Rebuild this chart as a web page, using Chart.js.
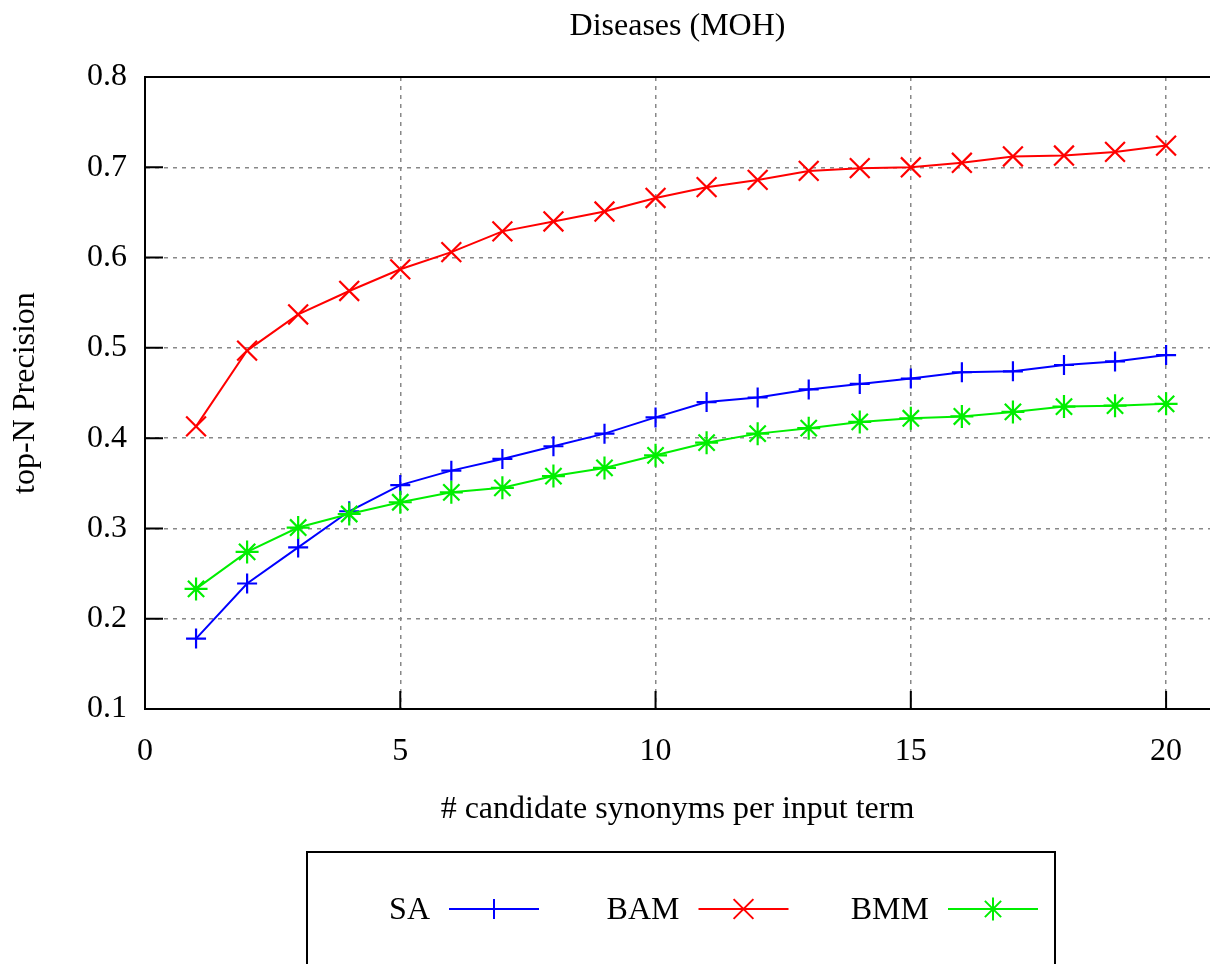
<!DOCTYPE html>
<html>
<head>
<meta charset="utf-8">
<title>Diseases (MOH)</title>
<script src="https://cdn.jsdelivr.net/npm/chart.js@4.4.1/dist/chart.umd.min.js"></script>
<style>
  html, body { margin: 0; padding: 0; background: #fff; }
  canvas { display: block; }
</style>
</head>
<body>
<canvas id="precisionChart" width="1210" height="964"></canvas>
<script>
// number of candidate synonyms (x) and top-N precision per method
const candidates = [1, 2, 3, 4, 5, 6, 7, 8, 9, 10, 11, 12, 13, 14, 15, 16, 17, 18, 19, 20];
const sa  = [0.178, 0.239, 0.279, 0.319, 0.348, 0.364, 0.377, 0.391, 0.405, 0.423,
             0.440, 0.445, 0.454, 0.460, 0.466, 0.473, 0.474, 0.481, 0.485, 0.492];
const bam = [0.413, 0.497, 0.537, 0.563, 0.587, 0.606, 0.629, 0.640, 0.651, 0.666,
             0.678, 0.686, 0.696, 0.699, 0.700, 0.705, 0.712, 0.713, 0.717, 0.724];
const bmm = [0.233, 0.274, 0.301, 0.316, 0.329, 0.340, 0.345, 0.358, 0.367, 0.381,
             0.395, 0.405, 0.411, 0.418, 0.422, 0.424, 0.429, 0.435, 0.436, 0.438];

const xTicks = [0, 5, 10, 15, 20];
const yTicks = [0.1, 0.2, 0.3, 0.4, 0.5, 0.6, 0.7, 0.8];

const serif = '"Liberation Serif", "Times New Roman", serif';
Chart.defaults.color = '#000';
Chart.defaults.font.family = serif;
Chart.defaults.font.size = 32;

const toPoints = values => values.map((v, i) => ({ x: candidates[i], y: v }));

// top border and inward tic marks, like gnuplot
const gnuplotFrame = {
    id: 'gnuplotFrame',
    beforeDatasetsDraw(chart) {
        const { ctx, chartArea: a, scales: { x, y } } = chart;
        ctx.save();
        ctx.strokeStyle = '#000';
        ctx.lineWidth = 2;
        ctx.beginPath();
        ctx.moveTo(a.left, a.top);
        ctx.lineTo(a.right, a.top);
        yTicks.forEach(v => {
            const py = y.getPixelForValue(v);
            ctx.moveTo(a.left, py);
            ctx.lineTo(a.left + 18, py);
        });
        xTicks.forEach(v => {
            const px = x.getPixelForValue(v);
            ctx.moveTo(px, a.bottom);
            ctx.lineTo(px, a.bottom - 18);
        });
        ctx.stroke();
        ctx.restore();
    }
};

// boxed legend below the plot: label, then line sample with marker
const legendBox = {
    id: 'legendBox',
    afterDraw(chart) {
        const ctx = chart.ctx;
        ctx.save();
        ctx.strokeStyle = '#000';
        ctx.lineWidth = 2;
        ctx.strokeRect(307, 852, 748, 160);
        ctx.font = '32px ' + serif;
        ctx.textAlign = 'right';
        ctx.textBaseline = 'middle';
        chart.data.datasets.forEach((ds, i) => {
            const x0 = 449 + i * 249.5;
            ctx.fillStyle = '#000';
            ctx.fillText(ds.label, x0 - 19, 911);
            ctx.strokeStyle = ds.borderColor;
            ctx.fillStyle = ds.borderColor;
            ctx.lineWidth = 2;
            ctx.beginPath();
            ctx.moveTo(x0, 909);
            ctx.lineTo(x0 + 90, 909);
            ctx.stroke();
            Chart.helpers.drawPoint(ctx, {
                pointStyle: ds.pointStyle, radius: ds.pointRadius, borderWidth: 2, rotation: 0
            }, x0 + 45, 909);
        });
        ctx.restore();
    }
};

new Chart(document.getElementById('precisionChart'), {
    type: 'line',
    data: {
        datasets: [
            {
                label: 'SA',
                data: toPoints(sa),
                borderColor: '#0000ff',
                backgroundColor: '#0000ff',
                pointStyle: 'cross',
                pointRadius: 10,
                order: 2
            },
            {
                label: 'BAM',
                data: toPoints(bam),
                borderColor: '#ff0000',
                backgroundColor: '#ff0000',
                pointStyle: 'crossRot',
                pointRadius: 14,
                order: 1
            },
            {
                label: 'BMM',
                data: toPoints(bmm),
                borderColor: '#00ee00',
                backgroundColor: '#00ee00',
                pointStyle: 'star',
                pointRadius: 11.5,
                order: 0
            }
        ]
    },
    options: {
        responsive: false,
        animation: false,
        elements: {
            line: { borderWidth: 2, tension: 0, fill: false },
            point: { borderWidth: 2.2, hoverRadius: 10 }
        },
        layout: { autoPadding: false, padding: { left: 0, right: 0, top: 0, bottom: 135 } },
        plugins: {
            legend: { display: false },
            tooltip: { enabled: false },
            title: {
                display: true,
                fullSize: false,
                text: 'Diseases (MOH)',
                color: '#000',
                font: { family: serif, size: 32, weight: 'normal' },
                padding: { top: 7, bottom: 31.6 }
            }
        },
        scales: {
            x: {
                type: 'linear',
                min: 0,
                max: 20.86,
                afterBuildTicks: scale => { scale.ticks = xTicks.map(v => ({ value: v })); },
                afterFit: scale => { scale.height = 120; },
                ticks: { padding: 23, maxRotation: 0, callback: v => String(v) },
                grid: { color: '#888', lineWidth: 1.5, drawTicks: false },
                border: { color: '#000', width: 2, dash: [4, 5] },
                title: {
                    display: true,
                    text: '# candidate synonyms per input term',
                    font: { family: serif, size: 32 },
                    padding: { top: 0, bottom: 0 }
                }
            },
            y: {
                min: 0.1,
                max: 0.8,
                afterBuildTicks: scale => { scale.ticks = yTicks.map(v => ({ value: v })); },
                afterFit: scale => { scale.width = 145; },
                ticks: { padding: 18, callback: v => v.toFixed(1) },
                grid: { color: '#888', lineWidth: 1.5, drawTicks: false },
                border: { color: '#000', width: 2, dash: [4, 5] },
                title: {
                    display: true,
                    text: 'top-N Precision',
                    font: { family: serif, size: 32 },
                    padding: { top: 6, bottom: 0 }
                }
            }
        }
    },
    plugins: [gnuplotFrame, legendBox]
});
</script>
</body>
</html>
